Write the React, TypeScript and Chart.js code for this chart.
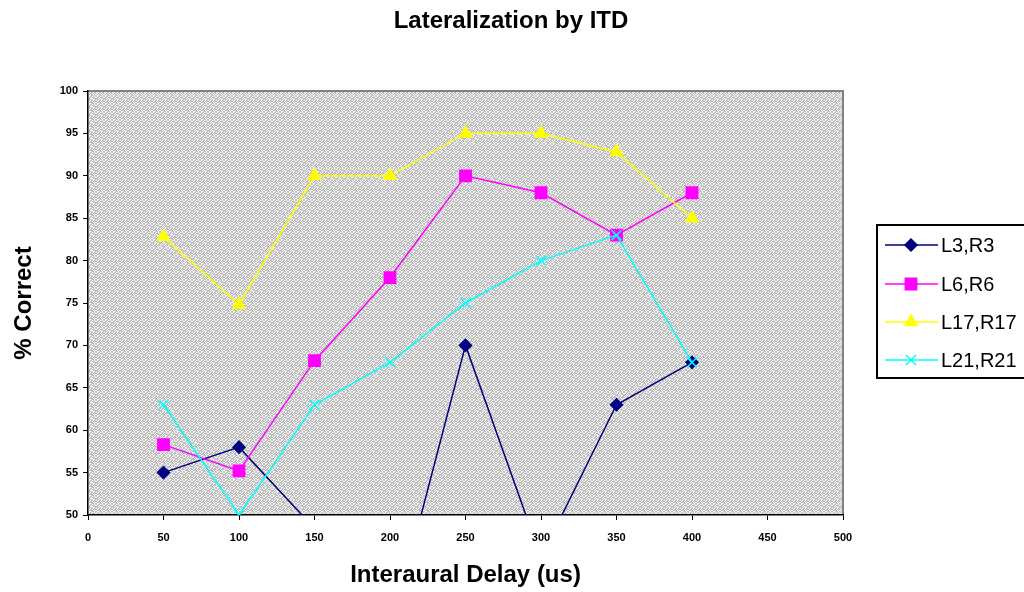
import React, { useEffect, useRef } from "react";
import { Chart, registerables } from "chart.js";
import { drawPoint } from "chart.js/helpers";

Chart.register(...registerables);

const titleText = "Lateralization by ITD";
const xTitle = "Interaural Delay (us)";
const yTitle = "% Correct";

const delays = [50, 100, 150, 200, 250, 300, 350, 400];
const seriesNames = ["L3,R3", "L6,R6", "L17,R17", "L21,R21"];
const l3r3 = [55, 58, 48.4, 36, 70, 45, 63, 68];
const l6r6 = [58.3, 55.2, 68.2, 78, 90, 88, 83, 88];
const l17r17 = [82.8, 74.8, 90, 90, 95, 95, 92.8, 85];
const l21r21 = [63, 50, 63, 68, 75, 80, 83, 68];

const xMin = 0;
const xMax = 500;
const xStep = 50;
const yMin = 50;
const yMax = 100;
const yStep = 5;

const FONT = "'Liberation Sans', Arial, Helvetica, sans-serif";

function makePattern(ctx: CanvasRenderingContext2D) {
  const tile = [
    "10110101",
    "01101110",
    "11010111",
    "11101001",
    "01011011",
    "10110111",
    "01111010",
    "10011101",
  ];
  const c = document.createElement("canvas");
  c.width = 8;
  c.height = 8;
  const t = c.getContext("2d")!;
  t.fillStyle = "#ffffff";
  t.fillRect(0, 0, 8, 8);
  t.fillStyle = "#c0c0c0";
  for (let r = 0; r < 8; r++) {
    for (let col = 0; col < 8; col++) {
      if (tile[r][col] === "1") t.fillRect(col, r, 1, 1);
    }
  }
  return ctx.createPattern(c, "repeat");
}

const plotBgPlugin = {
  id: "plotBg",
  beforeDraw(chart: any) {
    const { ctx, chartArea } = chart;
    ctx.save();
    ctx.fillStyle = "#ffffff";
    ctx.fillRect(0, 0, chart.width, chart.height);
    const pat = makePattern(ctx);
    ctx.fillStyle = pat || "#d0d0d0";
    ctx.fillRect(chartArea.left, chartArea.top, chartArea.right - chartArea.left, chartArea.bottom - chartArea.top);
    ctx.strokeStyle = "#808080";
    ctx.lineWidth = 2;
    ctx.beginPath();
    ctx.moveTo(chartArea.left, chartArea.top);
    ctx.lineTo(chartArea.right, chartArea.top);
    ctx.lineTo(chartArea.right, chartArea.bottom);
    ctx.stroke();
    // chart title, centred on the whole picture
    ctx.fillStyle = "#000000";
    ctx.font = `bold 24px ${FONT}`;
    ctx.textAlign = "center";
    ctx.textBaseline = "middle";
    ctx.fillText(titleText, 511, 21);
    ctx.restore();
  },
};

const legendBoxPlugin = {
  id: "legendBox",
  afterDraw(chart: any) {
    const { ctx } = chart;
    const boxX = 877;
    const boxY = 225;
    const boxW = 170;
    const boxH = 153;
    const rows = [245, 284, 322, 360];
    ctx.save();
    ctx.fillStyle = "#ffffff";
    ctx.fillRect(boxX, boxY, boxW, boxH);
    ctx.strokeStyle = "#000000";
    ctx.lineWidth = 2;
    ctx.strokeRect(boxX, boxY, boxW, boxH);
    chart.data.datasets.forEach((ds: any, i: number) => {
      const y = rows[i];
      ctx.strokeStyle = ds.borderColor;
      ctx.lineWidth = 1.5;
      ctx.beginPath();
      ctx.moveTo(885, y);
      ctx.lineTo(938, y);
      ctx.stroke();
      ctx.fillStyle = ds.pointBackgroundColor;
      ctx.strokeStyle = ds.pointBorderColor;
      ctx.lineWidth = ds.pointBorderWidth;
      drawPoint(ctx, { pointStyle: ds.pointStyle, radius: ds.pointRadius, rotation: 0, borderWidth: ds.pointBorderWidth }, 911, y);
      ctx.fillStyle = "#000000";
      ctx.font = `20px ${FONT}`;
      ctx.textBaseline = "middle";
      ctx.textAlign = "left";
      ctx.fillText(seriesNames[i], 941, y + 1);
    });
    ctx.restore();
  },
};

function series(name: string, vals: number[], color: string, style: string, radius: number, order: number) {
  return {
    label: name,
    data: delays.map((x, i) => ({ x, y: vals[i] })),
    borderColor: color,
    backgroundColor: color,
    pointBackgroundColor: color,
    pointBorderColor: color,
    pointBorderWidth: 1.5,
    borderWidth: 1.5,
    pointStyle: style,
    pointRadius: radius,
    pointHoverRadius: radius,
    tension: 0,
    fill: false,
    clip: 0,
    order,
  };
}

export default function App() {
  const ref = useRef<HTMLCanvasElement | null>(null);
  useEffect(() => {
    if (!ref.current) return;
    const chart = new Chart(ref.current, {
      type: "line",
      data: {
        datasets: [
          series(seriesNames[0], l3r3, "#000080", "rectRot", 6, 3),
          series(seriesNames[1], l6r6, "#ff00ff", "rect", 8, 2),
          series(seriesNames[2], l17r17, "#ffff00", "triangle", 7, 1),
          series(seriesNames[3], l21r21, "#00ffff", "crossRot", 7, 0),
        ] as any,
      },
      options: {
        responsive: false,
        animation: false,
        events: [],
        layout: { padding: { left: 0, right: 181, top: 91, bottom: 0 } },
        plugins: {
          legend: { display: false },
          tooltip: { enabled: false },
          title: { display: false },
        },
        scales: {
          x: {
            type: "linear",
            min: xMin,
            max: xMax,
            ticks: {
              stepSize: xStep,
              color: "#000000",
              font: { family: FONT, size: 11, weight: "bold" },
              padding: 11,
              maxRotation: 0,
            },
            grid: { display: true, drawOnChartArea: false, drawTicks: true, tickLength: 5, color: "#000000", lineWidth: 1 },
            border: { display: true, color: "#000000", width: 1.5 },
            title: {
              display: true,
              text: xTitle,
              color: "#000000",
              font: { family: FONT, size: 24, weight: "bold" },
              padding: { top: 0, bottom: 2 },
            },
            afterFit: (scale: any) => {
              scale.height = 77;
            },
          },
          y: {
            type: "linear",
            min: yMin,
            max: yMax,
            ticks: {
              stepSize: yStep,
              color: "#000000",
              font: { family: FONT, size: 11, weight: "bold" },
              padding: 5,
            },
            grid: { display: true, drawOnChartArea: false, drawTicks: true, tickLength: 5, color: "#000000", lineWidth: 1 },
            border: { display: true, color: "#000000", width: 1.5 },
            title: {
              display: true,
              text: yTitle,
              color: "#000000",
              font: { family: FONT, size: 24, weight: "bold" },
              padding: { top: 10, bottom: 0 },
            },
            afterFit: (scale: any) => {
              scale.width = 88;
            },
          },
        },
      } as any,
      plugins: [plotBgPlugin, legendBoxPlugin],
    });
    return () => chart.destroy();
  }, []);

  return (
    <div style={{ position: "absolute", left: 0, top: 0, width: 1024, height: 592 }}>
      <canvas ref={ref} width={1024} height={592} style={{ display: "block", width: 1024, height: 592 }} />
    </div>
  );
}
